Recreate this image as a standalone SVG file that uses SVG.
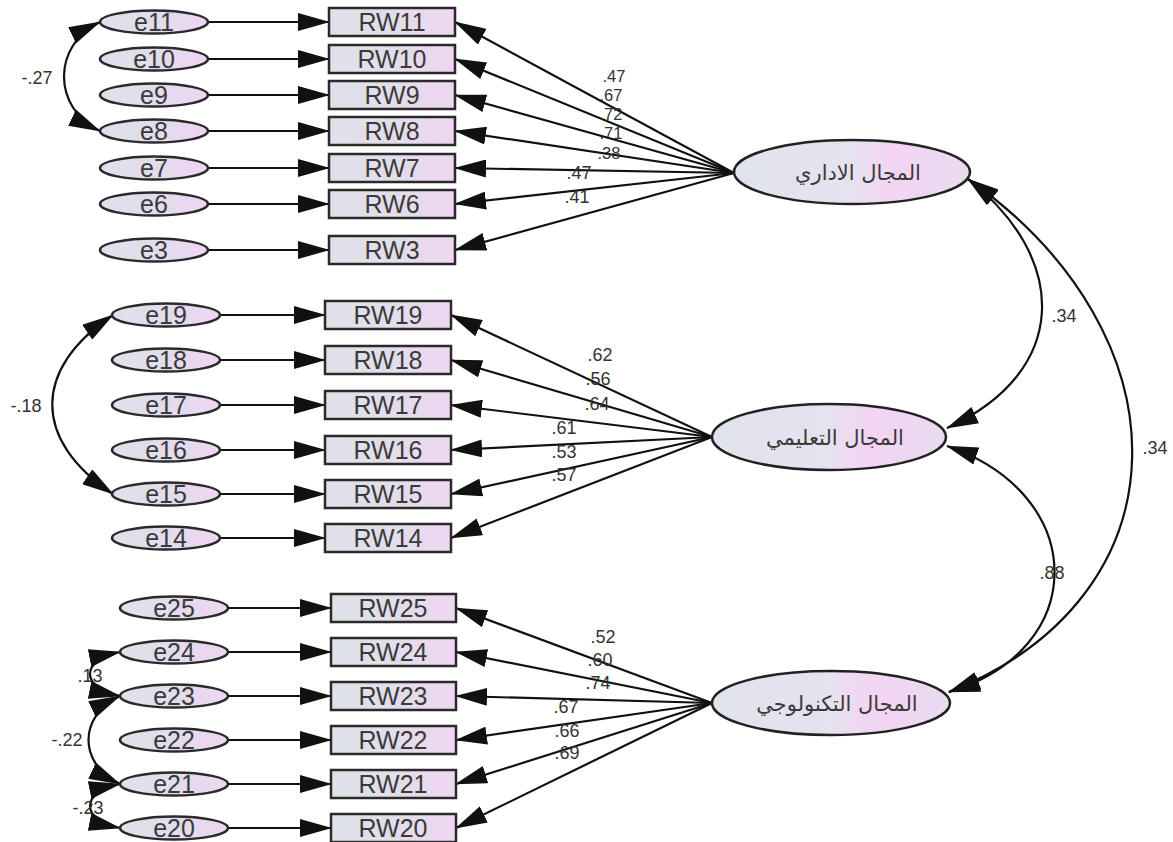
<svg xmlns="http://www.w3.org/2000/svg" width="1173" height="842" viewBox="0 0 1173 842">
  <defs>
    <linearGradient id="gBox" x1="0" y1="0" x2="1" y2="0">
      <stop offset="0" stop-color="#dfe2e9"/>
      <stop offset="0.55" stop-color="#e3dde9"/>
      <stop offset="1" stop-color="#efd6f2"/>
    </linearGradient>
    <linearGradient id="gErr" x1="0" y1="0" x2="1" y2="0">
      <stop offset="0" stop-color="#dfe2ea"/>
      <stop offset="0.5" stop-color="#e2dcec"/>
      <stop offset="1" stop-color="#efd5f3"/>
    </linearGradient>
    <linearGradient id="gLat" x1="0" y1="0" x2="1" y2="0">
      <stop offset="0" stop-color="#e0e3ec"/>
      <stop offset="0.5" stop-color="#e6e2ef"/>
      <stop offset="0.68" stop-color="#f3d4f4"/>
      <stop offset="1" stop-color="#e8dbef"/>
    </linearGradient>
    <marker id="ah" viewBox="0 0 32 18" refX="31" refY="9" markerWidth="32" markerHeight="18" markerUnits="userSpaceOnUse" orient="auto-start-reverse">
      <path d="M0,0 L32,9 L0,18 z" fill="#111"/>
    </marker>
  </defs>
  <style>
    .box { fill: url(#gBox); stroke: #2a2a2a; stroke-width: 2.5; }
    .err { fill: url(#gErr); stroke: #2a2a2a; stroke-width: 2.5; }
    .lat { fill: url(#gLat); stroke: #222; stroke-width: 2.5; }
    .lbl { font-family: "Liberation Sans", Arial, sans-serif; font-size: 25px; fill: #3a3a3a; text-anchor: middle; }
    .ar { font-family: "DejaVu Sans", "Noto Sans", sans-serif; font-size: 21px; fill: #3a3a3a; text-anchor: middle; }
    .num { font-family: "Liberation Sans", Arial, sans-serif; font-size: 18px; fill: #333; text-anchor: middle; }
    .sm { font-size: 16.5px; }
    .ln { fill: none; stroke: #111; stroke-width: 2.2; }
    .one { marker-end: url(#ah); }
    .two { marker-start: url(#ah); marker-end: url(#ah); }
  </style>

  <!-- connectors -->
  <g id="connectors">
    <!-- error terms to indicators -->
    <path class="ln one" d="M208,22 H329"/>
    <path class="ln one" d="M208,59 H329"/>
    <path class="ln one" d="M208,95 H329"/>
    <path class="ln one" d="M208,131 H329"/>
    <path class="ln one" d="M208,168 H329"/>
    <path class="ln one" d="M208,204 H329"/>
    <path class="ln one" d="M208,250 H329"/>

    <path class="ln one" d="M220,315 H325"/>
    <path class="ln one" d="M220,360 H325"/>
    <path class="ln one" d="M220,405 H325"/>
    <path class="ln one" d="M220,450 H325"/>
    <path class="ln one" d="M220,494 H325"/>
    <path class="ln one" d="M220,538 H325"/>

    <path class="ln one" d="M228,608 H331"/>
    <path class="ln one" d="M228,652 H331"/>
    <path class="ln one" d="M228,696 H331"/>
    <path class="ln one" d="M228,740 H331"/>
    <path class="ln one" d="M228,784 H331"/>
    <path class="ln one" d="M228,828 H331"/>

    <!-- loadings: first factor -->
    <path class="ln one" d="M734,173 L455,22"/>
    <path class="ln one" d="M734,173 L455,59"/>
    <path class="ln one" d="M734,173 L455,95"/>
    <path class="ln one" d="M734,173 L455,131"/>
    <path class="ln one" d="M734,173 L455,168"/>
    <path class="ln one" d="M734,173 L455,204"/>
    <path class="ln one" d="M734,173 L455,250"/>

    <!-- loadings: second factor -->
    <path class="ln one" d="M712,437 L451,315"/>
    <path class="ln one" d="M712,437 L451,360"/>
    <path class="ln one" d="M712,437 L451,405"/>
    <path class="ln one" d="M712,437 L451,450"/>
    <path class="ln one" d="M712,437 L451,494"/>
    <path class="ln one" d="M712,437 L451,538"/>

    <!-- loadings: third factor -->
    <path class="ln one" d="M712,703 L456,608"/>
    <path class="ln one" d="M712,703 L456,652"/>
    <path class="ln one" d="M712,703 L456,696"/>
    <path class="ln one" d="M712,703 L456,740"/>
    <path class="ln one" d="M712,703 L456,784"/>
    <path class="ln one" d="M712,703 L456,828"/>

    <!-- error covariances -->
    <path class="ln two" d="M100,22 C52,45 52,108 100,131"/>
    <path class="ln two" d="M113,315 C32,369 32,440 113,494"/>
    <path class="ln two" d="M120,652 C80,660 80,688 120,696"/>
    <path class="ln two" d="M120,696 C78,716 78,764 120,784"/>
    <path class="ln two" d="M120,784 C80,792 80,820 120,828"/>

    <!-- factor covariances -->
    <path class="ln two" d="M968,179 C1070,259 1070,372 947,428"/>
    <path class="ln two" d="M968,179 C1190,335 1190,596 949,692"/>
    <path class="ln two" d="M947,446 C1090,495 1090,650 949,692"/>
  </g>

  <!-- coefficient labels -->
  <g id="coefficients">
    <text class="num sm" x="614" y="82">.47</text>
    <text class="num sm" x="611" y="101">.67</text>
    <text class="num sm" x="611" y="120">.72</text>
    <text class="num sm" x="611" y="139">.71</text>
    <text class="num sm" x="609" y="159">.38</text>
    <text class="num" x="579" y="179">.47</text>
    <text class="num" x="577" y="203">.41</text>

    <text class="num" x="600" y="361">.62</text>
    <text class="num" x="598" y="385">.56</text>
    <text class="num" x="597" y="410">.64</text>
    <text class="num" x="564" y="434">.61</text>
    <text class="num" x="564" y="458">.53</text>
    <text class="num" x="564" y="481">.57</text>

    <text class="num" x="603" y="643">.52</text>
    <text class="num" x="600" y="666">.60</text>
    <text class="num" x="598" y="689">.74</text>
    <text class="num" x="566" y="713">.67</text>
    <text class="num" x="567" y="737">.66</text>
    <text class="num" x="567" y="759">.69</text>

    <text class="num" x="37" y="84">-.27</text>
    <text class="num" x="26" y="412">-.18</text>
    <text class="num" x="90" y="682">.13</text>
    <text class="num" x="67" y="746">-.22</text>
    <text class="num" x="88" y="814">-.23</text>

    <text class="num" x="1064" y="322">.34</text>
    <text class="num" x="1155" y="454">.34</text>
    <text class="num" x="1052" y="579">.88</text>
  </g>

  <!-- latent factors -->
  <g id="f1"><ellipse class="lat" cx="852" cy="172" rx="118" ry="32"/><text class="ar" x="858" y="180">المجال الاداري</text></g>
  <g id="f2"><ellipse class="lat" cx="829" cy="437" rx="117" ry="33"/><text class="ar" x="835" y="445">المجال التعليمي</text></g>
  <g id="f3"><ellipse class="lat" cx="831" cy="703" rx="119" ry="32"/><text class="ar" x="837" y="711">المجال التكنولوجي</text></g>

  <!-- indicators: first factor -->
  <g id="RW11"><rect class="box" x="329" y="8" width="126" height="28"/><text class="lbl" x="392" y="31">RW11</text></g>
  <g id="RW10"><rect class="box" x="329" y="45" width="126" height="28"/><text class="lbl" x="392" y="68">RW10</text></g>
  <g id="RW9"><rect class="box" x="329" y="81" width="126" height="28"/><text class="lbl" x="392" y="104">RW9</text></g>
  <g id="RW8"><rect class="box" x="329" y="117" width="126" height="28"/><text class="lbl" x="392" y="140">RW8</text></g>
  <g id="RW7"><rect class="box" x="329" y="154" width="126" height="28"/><text class="lbl" x="392" y="177">RW7</text></g>
  <g id="RW6"><rect class="box" x="329" y="190" width="126" height="28"/><text class="lbl" x="392" y="213">RW6</text></g>
  <g id="RW3"><rect class="box" x="329" y="236" width="126" height="28"/><text class="lbl" x="392" y="259">RW3</text></g>

  <!-- indicators: second factor -->
  <g id="RW19"><rect class="box" x="325" y="301" width="126" height="28"/><text class="lbl" x="388" y="324">RW19</text></g>
  <g id="RW18"><rect class="box" x="325" y="346" width="126" height="28"/><text class="lbl" x="388" y="369">RW18</text></g>
  <g id="RW17"><rect class="box" x="325" y="391" width="126" height="28"/><text class="lbl" x="388" y="414">RW17</text></g>
  <g id="RW16"><rect class="box" x="325" y="436" width="126" height="28"/><text class="lbl" x="388" y="459">RW16</text></g>
  <g id="RW15"><rect class="box" x="325" y="480" width="126" height="28"/><text class="lbl" x="388" y="503">RW15</text></g>
  <g id="RW14"><rect class="box" x="325" y="524" width="126" height="28"/><text class="lbl" x="388" y="547">RW14</text></g>

  <!-- indicators: third factor -->
  <g id="RW25"><rect class="box" x="331" y="594" width="125" height="28"/><text class="lbl" x="393" y="617">RW25</text></g>
  <g id="RW24"><rect class="box" x="331" y="638" width="125" height="28"/><text class="lbl" x="393" y="661">RW24</text></g>
  <g id="RW23"><rect class="box" x="331" y="682" width="125" height="28"/><text class="lbl" x="393" y="705">RW23</text></g>
  <g id="RW22"><rect class="box" x="331" y="726" width="125" height="28"/><text class="lbl" x="393" y="749">RW22</text></g>
  <g id="RW21"><rect class="box" x="331" y="770" width="125" height="28"/><text class="lbl" x="393" y="793">RW21</text></g>
  <g id="RW20"><rect class="box" x="331" y="814" width="125" height="28"/><text class="lbl" x="393" y="837">RW20</text></g>

  <!-- error terms -->
  <g id="e11"><ellipse class="err" cx="154" cy="22" rx="54" ry="11.5"/><text class="lbl" x="154" y="31">e11</text></g>
  <g id="e10"><ellipse class="err" cx="154" cy="59" rx="54" ry="11.5"/><text class="lbl" x="154" y="68">e10</text></g>
  <g id="e9"><ellipse class="err" cx="154" cy="95" rx="54" ry="11.5"/><text class="lbl" x="154" y="104">e9</text></g>
  <g id="e8"><ellipse class="err" cx="154" cy="131" rx="54" ry="11.5"/><text class="lbl" x="154" y="140">e8</text></g>
  <g id="e7"><ellipse class="err" cx="154" cy="168" rx="54" ry="11.5"/><text class="lbl" x="154" y="177">e7</text></g>
  <g id="e6"><ellipse class="err" cx="154" cy="204" rx="54" ry="11.5"/><text class="lbl" x="154" y="213">e6</text></g>
  <g id="e3"><ellipse class="err" cx="154" cy="250" rx="54" ry="11.5"/><text class="lbl" x="154" y="259">e3</text></g>

  <g id="e19"><ellipse class="err" cx="166" cy="315" rx="54" ry="11.5"/><text class="lbl" x="166" y="324">e19</text></g>
  <g id="e18"><ellipse class="err" cx="166" cy="360" rx="54" ry="11.5"/><text class="lbl" x="166" y="369">e18</text></g>
  <g id="e17"><ellipse class="err" cx="166" cy="405" rx="54" ry="11.5"/><text class="lbl" x="166" y="414">e17</text></g>
  <g id="e16"><ellipse class="err" cx="166" cy="450" rx="54" ry="11.5"/><text class="lbl" x="166" y="459">e16</text></g>
  <g id="e15"><ellipse class="err" cx="166" cy="494" rx="54" ry="11.5"/><text class="lbl" x="166" y="503">e15</text></g>
  <g id="e14"><ellipse class="err" cx="166" cy="538" rx="54" ry="11.5"/><text class="lbl" x="166" y="547">e14</text></g>

  <g id="e25"><ellipse class="err" cx="174" cy="608" rx="54" ry="11.5"/><text class="lbl" x="174" y="617">e25</text></g>
  <g id="e24"><ellipse class="err" cx="174" cy="652" rx="54" ry="11.5"/><text class="lbl" x="174" y="661">e24</text></g>
  <g id="e23"><ellipse class="err" cx="174" cy="696" rx="54" ry="11.5"/><text class="lbl" x="174" y="705">e23</text></g>
  <g id="e22"><ellipse class="err" cx="174" cy="740" rx="54" ry="11.5"/><text class="lbl" x="174" y="749">e22</text></g>
  <g id="e21"><ellipse class="err" cx="174" cy="784" rx="54" ry="11.5"/><text class="lbl" x="174" y="793">e21</text></g>
  <g id="e20"><ellipse class="err" cx="174" cy="828" rx="54" ry="11.5"/><text class="lbl" x="174" y="837">e20</text></g>
</svg>
